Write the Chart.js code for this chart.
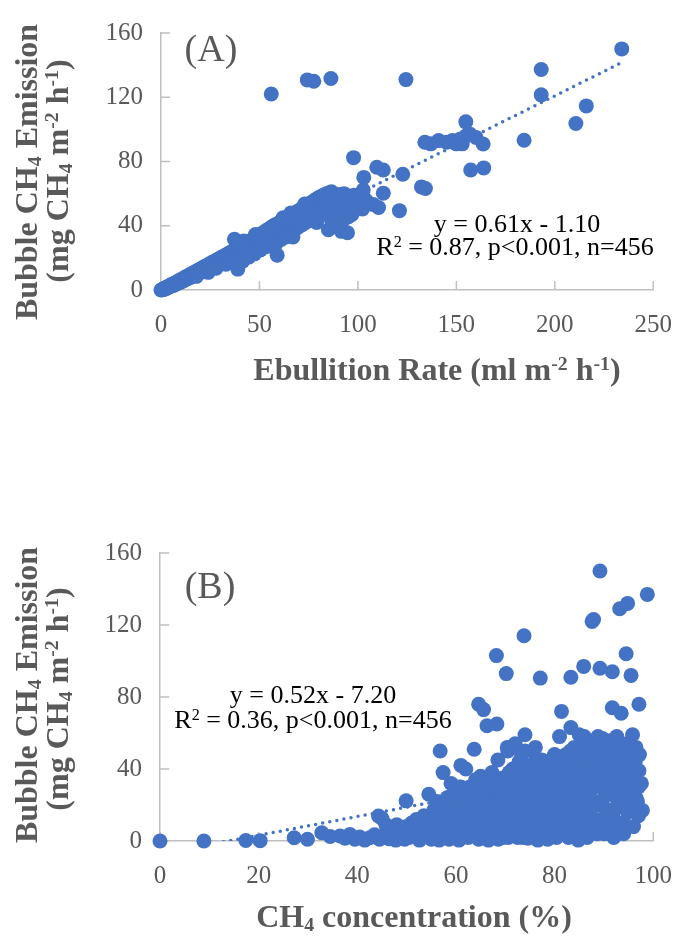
<!DOCTYPE html>
<html><head><meta charset="utf-8">
<script src="https://cdn.jsdelivr.net/npm/chart.js@4.4.0/dist/chart.umd.min.js"></script>
<style>
html,body{margin:0;padding:0;background:#fff;width:692px;height:943px;overflow:hidden}
.wrap{position:absolute;left:0;width:692px}
canvas{display:block}
</style></head><body>
<div class="wrap" style="top:0;height:470px"><canvas id="cA" width="692" height="470"></canvas></div>
<div class="wrap" style="top:470px;height:473px"><canvas id="cB" width="692" height="473"></canvas></div>
<script>
// ---------- DATA ----------
const yTicks = [0, 40, 80, 120, 160];
const xTicksA = [0, 50, 100, 150, 200, 250];
const xTicksB = [0, 20, 40, 60, 80, 100];

// Panel A: [ebullition rate, bubble CH4 emission]
const pointsA = [
[0,0],[0.5,0.2],[1,0.6],[1.5,0.3],[2,1.2],[2.5,0.8],[3,1.8],[3.5,1.4],[4,2.4],[4.5,2],[5,3.2],[5.5,2.6],[6,3.8],[6.5,3],[7,4.4],[7.5,3.6],[8,5],[8.5,4.2],[9,5.8],[9.5,4.6],[10,6.4],[10.5,5.4],[11,7],[11.5,5.8],[12,7.8],[12.5,6.6],[13,8.4],[13.5,7],[14,9],[14.5,7.6],[15,9.8],[15.5,8.2],[16,10.4],[16.5,8.8],[17,11],[17.5,9.4],[18,11.8],[18.5,10],[19,12.4],[19.5,10.6],[20,13],[20.5,11.2],[21,13.8],[21.5,11.6],[22,14.4],[22.5,12.2],[23,15],[23.5,12.8],[24,15.8],[24.5,13.4],[25,16.4],[25.5,14],[26,17.2],[26.5,14.4],[27,17.8],[27.5,15],[28,18.4],[28.5,15.6],[29,19.2],[29.5,16.2],[30,19.8],[30.5,16.8],[31,20.6],[31.5,17.2],[32,21.2],[32.5,18],[33,21.8],[33.5,18.4],[34,22.6],[34.5,19],[35,23.2],[35.5,19.6],[36,24],[36.5,20.2],[37,24.6],[37.3,31.6],[37.8,21],[38.5,25.4],[39,13],[39.3,21.6],[40,26.2],[40.5,22.4],[41,27],[41.5,18],[42,27.8],[42.5,23.6],[43,28.6],[43.5,24],[44,29.4],[44.5,20.5],[45,30.2],[45.5,25.2],[46,31],[46.5,26],[47,31.8],[47.5,22.5],[48,32.6],[48.5,27.4],[49,33.4],[49.5,28.2],[50,34.2],[50.5,25],[51,35],[51.5,29.6],[52,35.8],[52.5,30.4],[53,36.6],[53.5,27],[54,37.4],[54.5,31.8],[55,38.2],[55.5,32.6],[56,39],[56.5,29],[57,39.8],[57.5,34],[58,40.6],[58.5,34.8],[59,21.7],[59.5,41.4],[60,36],[60.5,42.2],[61,31.5],[61.5,43],[62,37.5],[62.5,43.8],[63,38.4],[63.5,33],[64,44.6],[64.5,39.6],[65,45.4],[65.5,35],[66,46.2],[66.5,41],[67,47],[67.5,37],[68,47.8],[68.5,42.5],[69,48.6],[69.5,39],[70,49.4],[70.5,44],[71,50.2],[71.5,40.5],[72,51],[72.5,45.5],[73,51.8],[73.5,42],[74,52.6],[74.5,47],[75,53.4],[75.5,43.5],[76,54.2],[76.5,48.5],[77,55],[77.5,45],[78,55.8],[78.5,50],[79,56.6],[79.5,46.5],[80,57.4],[80.5,51.5],[81,58],[81.5,48],[82,58.6],[82.5,53],[83,59.2],[83.5,49.5],[84,60],[84.5,54.5],[85,37.5],[85.5,60.6],[86,51],[86.6,61.2],[87,56],[88,44],[88.5,58],[89,52.5],[90,59.5],[90.5,46],[91,57],[91.6,36.5],[92.4,43.4],[93,60],[94,53],[94.7,35.6],[95,45.5],[96,58],[97,52],[98,59],[99,55.3],[100,57],[102.3,50.4],[102.7,62.2],[104,56],[105.5,54],[107.7,53.3],
[42,30.5],[48,34.5],[55,36],[62,45],[66,48],[73,53.5],[44,22],[52,27],[64,35],[70,40],[76,45],[82,50],[88,53],[92,48],[95,56],[97,47],[24,11],[28,13.5],[33,16],[18,8.5],[58,28],[67,33],[79,42],[86,45],[90,42],
[56,122],[74.3,130.8],[77.6,130],[86.3,131.7],[124.4,131],[97.8,82.4],[103,70.1],[109.6,76.4],[112.9,74.7],[112.9,60.3],[110.5,51.4],[121.1,49.4],[122.8,72.1],[132.3,64.2],[134.3,63.2],
[134,92],[137,91],[141,93],[145,92],[148,93],[150,91],[152,94],[153,91],[155,96],[157,97],[160,95],[154.8,104.7],[163.6,90.9],[157.3,74.7],[163.9,76],[184.4,93.2],[193.1,137.3],[193.1,121.5],[210.7,103.7],[216,114.6],[234,150.1]
];
// trendline endpoints (Excel linear trend, y = 0.61x - 1.10)
const trendA = [[0,-1.1],[234,141.6]];

// Panel B: [CH4 concentration %, bubble CH4 emission]
const pointsB = [
[0,0],[8.9,0],[17.4,0.3],[20.3,0.2],[27.2,1.8],[29.9,1],[32.8,4.6],[34.5,2.5],[36.5,2.8],[37.5,1.5],[38.5,3.6],[39.5,1],[40.5,2.2],[41.5,0.5],[42.5,1.8],[43.5,3.5],[44.3,13.9],[45,12.5],[45.5,2.5],[46.5,1.2],[47,4.5],[47.8,0.5],[48.5,6],[49,3],[49.9,22.3],[50,8],[50.5,2],[51,10],[51.5,5],[52,12],[52.5,1.5],[53,7],[53.5,14],[54,3],[54.5,26],[54.8,10],[55,1],[55.5,17],[56,6],[56.2,22],[56.8,50],[57,12],[57.4,38],[57.5,2],[58,19],[58.5,8],[59,25],[59.5,14],[60,4],[60.5,30],[60.8,21],[61,42],[61.5,10],[62,40],[62.2,16],[62.5,27],[63,6],[63.5,20],[63.7,51],[64,34],[64.3,12],[64.6,76],[65,24],[65.3,3],[65.6,73],[66,18],[66.3,64],[66.5,31],[67,9],[67.3,38],[67.5,22],[68,14],[68.2,103],[68.3,65],[68.5,45],[68.8,27],[69,4],[69.5,35],[70,18],[70.2,93],[70.4,52],[70.5,50],[70.8,8],[71,28],[71.5,40],[71.8,14],[72,54],[72.3,22],[72.5,2],[73,33],[73.3,48],[73.5,12],[73.8,114],[74,59],[74.2,25],[74.5,42],[74.8,6],[75,30],[75.3,17],[75.6,50],[76,37],[76.1,52],[76.5,10],[77,24],[77.1,90.5],[77.4,45],[77.8,32],[78,4],[78.3,19],[78.6,28],[79,38],[79.3,12],[79.6,46],[80,22],[80.3,33],[80.6,8],[81,58],[81.4,72],[81.5,40],[81.8,16],[82,28],[82.3,48],[82.6,35],[83,10],[83.3,63],[83.3,91],[83.6,24],[84,43],[84.3,30],[84.6,18],[85,59],[85,52],[85.3,38],[85.6,6],[85.9,97],[86,46],[86.3,26],[86.6,33],[87,14],[87.3,55],[87.6,122],[87.9,123],[88,40],[88.3,22],[88.6,49],[89,8],[89.2,150],[89.2,96],[89.4,30],[89.7,57],[90,44],[90.3,18],[90.6,36],[91,52],[91.3,26],[91.7,94],[91.7,74],[92,12],[92.3,47],[92.6,58],[93,32],[93.2,129],[93.5,71],[93.5,20],[93.8,42],[94,10],[94.5,104],[94.8,132],[94.8,54],[95,28],[95.5,92],[95.5,36],[95.8,59],[96,45],[96.5,24],[97.1,76],[97.1,39],[97.8,17],[98.8,137],
[58.5,14],[61,6],[62.5,2],[64,8],[66,2],[67,16],[69.5,10],[71,4],[72.5,26],[74,18],[76,6],[77.5,14],[79.5,4],[81,26],[83,18],[84.5,10],[86,20],[88,30],[90.5,14],[92.5,24],[94,34],[96,18],[97,30],[87.5,36],[89,42],[91,40],[93,50],[95,46],[88.5,12],[86.8,8],[90,4],[92.2,6],[84,4],[82.5,6],[80,14],[78,10],[75.5,24],[73.5,6],[70.5,24],[68.5,20],[66.5,8],[63,14],[60,12],[57,6],[53,4],[51.5,8],[48,9],[46,5],
[55.2,4],[55.8,11],[56.4,16],[57.2,9],[57.8,3],[58.2,24],[58.8,17],[59.2,5],[59.8,20],[60.2,9],[60.6,15],[61.2,25],[61.6,3],[62,21],[62.4,11],[62.8,30],[63.2,8],[63.6,26],[64,17],[64.4,3],[64.8,14],[65.2,30],[65.6,9],[66,25],[66.4,14],[66.8,36],[67.2,4],[67.6,28],[68,8],[68.4,33],[68.8,17],[69.2,24],[69.6,2],[70,30],[70.4,12],[70.8,38],[71.2,21],[71.6,7],[72,33],[72.4,16],[72.8,44],[73.2,25],[73.6,2],[74,36],[74.4,10],[74.8,29],[75.2,40],[75.6,4],[76,19],[76.4,32],[76.8,12],[77.2,38],[77.6,22],[78,42],[78.4,6],[78.8,34],[79.2,16],[79.6,26],[80,40],[80.4,2],[80.8,30],[81.2,18],[81.6,44],[82,10],[82.4,38],[82.8,24],[83.2,50],[83.6,14],[84,34],[84.4,44],[84.8,26],[85.2,6],[85.6,48],[86,16],[86.4,38],[86.8,54],[87.2,28],[87.6,10],[88,46],[88.4,20],[88.8,58],[89.2,34],[89.6,12],[90,50],[90.4,26],[90.8,42],[91.2,4],[91.6,56],[92,32],[92.4,18],[92.8,44],[93.2,10],[93.6,54],[94,26],[94.4,40],[94.8,16],[95.2,50],[95.6,30],[96,8],[96.4,38],[96.8,22],[97.2,48],[97.6,32],
[90.8,8],[88.6,4],[86.6,2],[84.8,0.5],[82.8,2],[80.6,4],[78.6,1],[76.6,0.5],[74.6,1.5],[72.6,8],[70.6,2],[68.6,1],[66.6,0.5],[64.6,1],[62.6,5],[60.6,0.5],[58.6,1],[56.6,0.5],[54.6,4],[52.6,0.5],[50.6,5],[49.6,1],[47.5,2.5],[46.8,7],[45.8,9],[44.5,1],
[55.6,8],[57.6,13],[59.6,10],[61.6,18],[63.6,4],[65.6,20],[67.6,12],[69.6,16],[71.6,26],[73.6,20],[75.6,14],[77.6,28],[79.6,34],[81.6,36],[83.6,40],[85.6,30],[87.6,42],[89.6,48],[91.6,30],[93.6,36],[95.6,20],[97,14],[92,2],[94,4],[89.5,22],[87,24],[85,20],[83,30],[81,10],[79,22],[77,18],[75,8],[73,28],[71,12],[69,22],[67,30],[65,36],[63,24],[61,30],[59,32],[57,20],
[90.5,54],[88,52],[86,58],[84,52],[82,44],[80,48],[78,36],[76,44],[74,50],[72,38],[91,46],[93,46],[95,42],[96.5,52],[92.5,36],[88.5,38]
];
// trendline endpoints (Excel linear trend, y = 0.52x - 7.20)
const trendB = [[0,-7.2],[98.8,44.2]];

// ---------- STYLE ----------
const FAM = "'Liberation Serif','Times New Roman',serif";
const BLUE = '#4472C4', AXIS = '#BFBFBF', GRAY = '#595959';
Chart.defaults.font.family = FAM;
Chart.defaults.color = GRAY;

function drawRich(ctx, parts, cx, baseY, size, weight, color) {
  let total = 0; const ws = [];
  for (const [t, m] of parts) {
    const s = m ? size * 0.62 : size;
    ctx.font = `${weight} ${s}px ${FAM}`;
    const w = ctx.measureText(t).width; ws.push(w); total += w;
  }
  let x = cx - total / 2;
  ctx.fillStyle = color; ctx.textBaseline = 'alphabetic'; ctx.textAlign = 'left';
  parts.forEach(([t, m], i) => {
    const s = m ? size * 0.62 : size;
    ctx.font = `${weight} ${s}px ${FAM}`;
    const dy = m === 'sub' ? size * 0.14 : m === 'sup' ? -size * 0.32 : 0;
    ctx.fillText(t, x, baseY + dy);
    x += ws[i];
  });
}

const annot = {
  id: 'annot',
  afterDraw(chart, args, opts) {
    const ctx = chart.ctx;
    for (const it of (opts.items || [])) {
      ctx.save();
      if (it.rot) {
        ctx.translate(it.x, it.y); ctx.rotate(-Math.PI / 2);
        drawRich(ctx, it.parts, 0, 0, it.size, it.weight || 'normal', it.color);
      } else {
        drawRich(ctx, it.parts, it.x, it.y, it.size, it.weight || 'normal', it.color);
      }
      ctx.restore();
    }
  }
};

const innerTicks = {
  id: 'innerTicks',
  beforeDatasetsDraw(chart) {
    const { ctx, chartArea: a, scales: { x, y } } = chart;
    ctx.save(); ctx.strokeStyle = AXIS; ctx.lineWidth = 1.5;
    x.ticks.forEach(t => { const px = x.getPixelForValue(t.value); ctx.beginPath(); ctx.moveTo(px, a.bottom); ctx.lineTo(px, a.bottom - 9); ctx.stroke(); });
    y.ticks.forEach(t => { const py = y.getPixelForValue(t.value); ctx.beginPath(); ctx.moveTo(a.left, py); ctx.lineTo(a.left + 9, py); ctx.stroke(); });
    ctx.restore();
  }
};

function makeChart(id, W, H, pts, trend, xTicks, area, items) {
  const xMax = xTicks[xTicks.length - 1], xStep = xTicks[1] - xTicks[0];
  const chart = new Chart(document.getElementById(id), {
    type: 'scatter',
    data: {
      datasets: [
        { type: 'line', data: trend.map(([x, y]) => ({ x, y })), borderColor: BLUE, borderWidth: 3.5,
          borderDash: [0, 7.2], borderCapStyle: 'round', pointRadius: 0, fill: false, tension: 0, order: 0, clip: 0 },
        { data: pts.map(([x, y]) => ({ x, y })), backgroundColor: BLUE, borderWidth: 0, pointRadius: 7.5,
          pointHoverRadius: 7.5, order: 1, clip: false }
      ]
    },
    options: {
      responsive: false, animation: false,
      layout: { padding: { left: area.left - 60, top: area.top, right: W - area.right, bottom: H - area.bottom - 50 } },
      plugins: { legend: { display: false }, tooltip: { enabled: false }, annot: { items } },
      scales: {
        x: { type: 'linear', min: 0, max: xMax,
          ticks: { stepSize: xStep, color: GRAY, font: { size: 25 }, padding: 20, maxRotation: 0 },
          grid: { display: false, drawTicks: false }, border: { display: true, color: AXIS, width: 1.5 },
          afterFit(s) { s.height = 50; } },
        y: { type: 'linear', min: yTicks[0], max: yTicks[yTicks.length - 1],
          ticks: { stepSize: yTicks[1] - yTicks[0], color: GRAY, font: { size: 25 }, padding: 18 },
          grid: { display: false, drawTicks: false }, border: { display: true, color: AXIS, width: 1.5 },
          afterFit(s) { s.width = 60; } }
      }
    },
    plugins: [innerTicks, annot]
  });
  for (let i = 0; i < 3; i++) {
    const ca = chart.chartArea, p = chart.options.layout.padding;
    p.left += area.left - ca.left; p.top += area.top - ca.top;
    p.right += ca.right - area.right; p.bottom += ca.bottom - area.bottom;
    chart.update('none');
  }
  return chart;
}

const yTitle1 = [['Bubble CH'], ['4', 'sub'], [' Emission']];
const yTitle2 = [['(mg CH'], ['4', 'sub'], [' m'], ['-2', 'sup'], [' h'], ['-1', 'sup'], [')']];

makeChart('cA', 692, 470, pointsA, trendA, xTicksA, { left: 161, top: 20, right: 668, bottom: 290 }, [
  { parts: [['(A)']], x: 211, y: 61, size: 38, color: GRAY },
  { parts: [['y = 0.61x - 1.10']], x: 517, y: 232, size: 26, color: '#000' },
  { parts: [['R'], ['2', 'sup'], [' = 0.87, p<0.001, n=456']], x: 515, y: 255, size: 26, color: '#000' },
  { parts: [['Ebullition Rate (ml m'], ['-2', 'sup'], [' h'], ['-1', 'sup'], [')']], x: 437, y: 380, size: 32, weight: 'bold', color: GRAY },
  { parts: yTitle1, x: 37, y: 172, size: 32, weight: 'bold', color: GRAY, rot: true },
  { parts: yTitle2, x: 68, y: 171, size: 32, weight: 'bold', color: GRAY, rot: true }
]);

makeChart('cB', 692, 473, pointsB, trendB, xTicksB, { left: 160, top: 83, right: 668, bottom: 371 }, [
  { parts: [['(B)']], x: 210, y: 128, size: 38, color: GRAY },
  { parts: [['y = 0.52x - 7.20']], x: 313, y: 233, size: 26, color: '#000' },
  { parts: [['R'], ['2', 'sup'], [' = 0.36, p<0.001, n=456']], x: 313, y: 258, size: 26, color: '#000' },
  { parts: [['CH'], ['4', 'sub'], [' concentration (%)']], x: 414, y: 457, size: 32, weight: 'bold', color: GRAY },
  { parts: yTitle1, x: 37, y: 225, size: 32, weight: 'bold', color: GRAY, rot: true },
  { parts: yTitle2, x: 68, y: 229, size: 32, weight: 'bold', color: GRAY, rot: true }
]);
</script></body></html>
